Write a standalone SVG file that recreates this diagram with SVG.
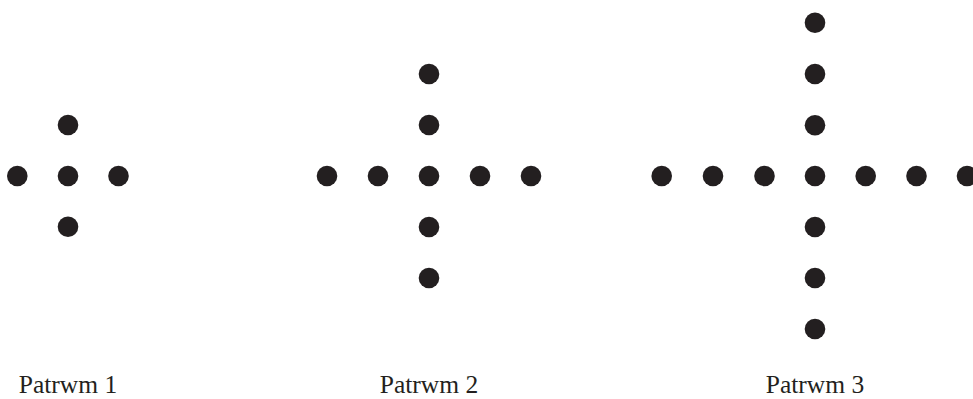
<svg xmlns="http://www.w3.org/2000/svg" width="973" height="399" viewBox="0 0 973 399">
<style>
.d{fill:#231f20}
.t{font-family:"Liberation Serif","Times New Roman",serif;font-size:25.5px;fill:#231f20;text-anchor:middle}
</style>
<defs><circle id="dot" r="10.3" class="d"/></defs>
<rect width="973" height="399" fill="#fff"/>
<g id="pattern1">
<use href="#dot" x="17.3" y="176"/><use href="#dot" x="68" y="176"/><use href="#dot" x="118.5" y="176"/>
<use href="#dot" x="68" y="125"/><use href="#dot" x="68" y="226.7"/>
<text class="t" x="68" y="393.3">Patrwm 1</text>
</g>
<g id="pattern2">
<use href="#dot" x="327" y="176"/><use href="#dot" x="378" y="176"/><use href="#dot" x="429" y="176"/><use href="#dot" x="480" y="176"/><use href="#dot" x="531" y="176"/>
<use href="#dot" x="429" y="74"/><use href="#dot" x="429" y="125"/><use href="#dot" x="429" y="227"/><use href="#dot" x="429" y="278"/>
<text class="t" x="429" y="393.3">Patrwm 2</text>
</g>
<g id="pattern3">
<use href="#dot" x="661.7" y="176"/><use href="#dot" x="713" y="176"/><use href="#dot" x="764.5" y="176"/><use href="#dot" x="815" y="176"/><use href="#dot" x="865.7" y="176"/><use href="#dot" x="916.5" y="176"/><use href="#dot" x="967" y="176"/>
<use href="#dot" x="815" y="22.7"/><use href="#dot" x="815" y="74"/><use href="#dot" x="815" y="125.3"/><use href="#dot" x="815" y="227"/><use href="#dot" x="815" y="278"/><use href="#dot" x="815" y="329"/>
<text class="t" x="815" y="393.3">Patrwm 3</text>
</g>
<g id="connectors"/>
</svg>
